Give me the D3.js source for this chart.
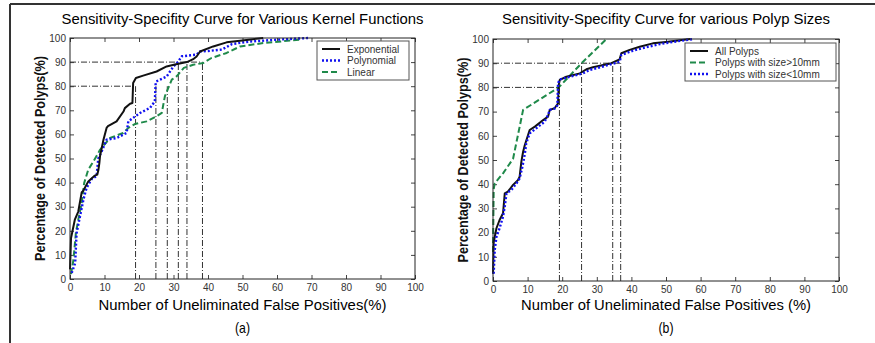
<!DOCTYPE html>
<html>
<head>
<meta charset="utf-8">
<script src="https://cdn.jsdelivr.net/npm/d3@7"></script>
<style>
  body { margin: 0; background: #fff; }
  svg { display: block; font-family: "Liberation Sans", Arial, sans-serif; }
</style>
</head>
<body>
<svg width="875" height="343"></svg>
<script>
// ---- data ----
const xTicks = [0, 10, 20, 30, 40, 50, 60, 70, 80, 90, 100];
const yTicks = [0, 10, 20, 30, 40, 50, 60, 70, 80, 90, 100];

// (a) kernel functions
const expPoints = [[0,4],[0.3,17],[1.4,24.6],[2.4,28],[3.4,36],[3.8,36.5],[5.3,40.5],[7.2,42.9],[7.9,43.3],[8.2,45],[8.5,48],[8.7,51],[9.7,57.8],[10.6,62.7],[11,63.4],[13.5,65.4],[15.5,69.5],[15.9,70.9],[17.4,72.7],[18.1,73],[18.3,81.3],[19.1,83.4],[21.2,84.4],[25.1,86.1],[28,88.2],[30.4,89],[33.9,90],[35.7,91.2],[36.7,92.3],[37.7,94.4],[41.5,96.5],[45.4,98.2],[49.3,98.9],[53,99.5],[56,100]];
const polyPoints = [[0.5,2.5],[1.5,6.6],[1.9,19],[2.9,26],[3.9,33],[4.8,37.8],[6.3,41.5],[7.7,42.7],[8.2,50],[9.2,53],[10.6,57.8],[13.5,58.5],[16.4,60.6],[16.9,65.4],[20.3,68.9],[23.2,71],[24.6,73.7],[24.8,80.6],[25,82],[28,84],[30,88.2],[31.4,90.3],[32.4,92.4],[36.7,93.1],[37.7,94.4],[40,94.6],[44,95.2],[47,97.5],[52,98.5],[60,99.3],[69,100]];
const linPoints = [[0.3,2],[1,8],[1.7,19],[2.4,24.6],[3.4,31.5],[4.1,39.8],[5.3,45.4],[6.8,48.8],[8.2,52.3],[8.7,53.6],[11.6,58.5],[15.4,60.6],[16.9,62.7],[18.8,64.3],[22.2,65.4],[25.1,67.5],[26.6,68.9],[27.5,75.8],[28.5,79.3],[29.5,82.7],[30.9,84.1],[33,87.6],[35.7,88.9],[38.6,89.6],[41,91.7],[45.4,93.8],[49.3,96.5],[56,97.9],[62,98.7],[67,99.3]];
const refHA = [[90, 38.4], [80, 19]];
const refVA = [[19, 80], [24.9, 80], [28.2, 80], [31.4, 90], [33.9, 90], [38.4, 90]];

// (b) polyp sizes
const allPoints = [[0,3],[0.2,16],[1,21.8],[1.9,25.2],[2.9,28],[3.4,36.2],[4.3,36.9],[5.8,39.7],[7.2,41.7],[7.7,43.1],[8.2,49.3],[8.7,53.4],[9.2,56.2],[10.6,62.4],[12.1,63.8],[14.5,66.5],[15.9,67.9],[16.4,70.7],[17.8,71.4],[18.8,73.4],[19,81],[19.3,83.1],[21.2,84.4],[25.1,85.8],[27,87.5],[28.9,88.3],[34.2,90],[36.6,91.6],[37.1,94.1],[39.5,95.5],[42.4,96.8],[46.2,98.2],[50,98.8],[54,99.5],[57,100]];
const bigPoints = [[0,12],[0.2,38],[0.5,40.4],[2.9,44.5],[5.8,50.5],[8.7,70.7],[19,80],[25.6,90],[32.8,100]];
const smallPoints = [[0.2,3],[0.5,12.8],[1,18.3],[1.9,21.8],[2.9,26.6],[3.4,30.8],[3.9,36.2],[5.3,37.6],[6.8,40.4],[7.7,42.4],[8.5,47.2],[9.2,52.5],[9.6,56.9],[10.6,61],[12.5,63.1],[14.9,65.8],[15.9,68.6],[16.4,70.7],[18.1,71.4],[18.6,72.7],[18.8,81.7],[19.3,83.3],[22.2,84.4],[26,85.8],[27.9,87.2],[33.5,89.3],[36.6,90.6],[37.1,93.4],[40.5,95.2],[44.3,96.6],[48.2,97.9],[53,99],[58,100]];
const refHB = [[90, 36.9], [80, 19.2]];
const refVB = [[19.2, 80], [25.6, 90], [34.6, 90], [36.9, 90]];

const styles = {
  solid: { stroke: "#111", width: 2, dash: null },
  dotted: { stroke: "#1010f0", width: 2.4, dash: "2,2" },
  dashed: { stroke: "#1f8a4a", width: 2, dash: "6,3" }
};

const svg = d3.select("svg");

// outer frame
svg.append("line").attr("x1", 10).attr("x2", 875).attr("y1", 4).attr("y2", 4)
  .attr("stroke", "#333").attr("stroke-width", 2);
svg.append("line").attr("x1", 10).attr("x2", 10).attr("y1", 4).attr("y2", 343)
  .attr("stroke", "#333").attr("stroke-width", 2);

function drawPanel(p) {
  const x = d3.scaleLinear().domain([0, 100]).range([p.left, p.right]);
  const y = d3.scaleLinear().domain([0, 100]).range([p.bottom, p.top]);
  const g = svg.append("g");

  // inward ticks on all sides
  g.append("g").attr("transform", `translate(0,${p.bottom})`)
    .call(d3.axisBottom(x).tickValues(xTicks).tickSize(-4).tickPadding(5));
  g.append("g").attr("transform", `translate(${p.left},0)`)
    .call(d3.axisLeft(y).tickValues(yTicks).tickSize(-4).tickPadding(4));
  g.append("g").attr("transform", `translate(0,${p.top})`)
    .call(d3.axisTop(x).tickValues(xTicks).tickSize(-4).tickFormat(""));
  g.append("g").attr("transform", `translate(${p.right},0)`)
    .call(d3.axisRight(y).tickValues(yTicks).tickSize(-4).tickFormat(""));
  g.selectAll(".domain").remove();
  g.selectAll(".tick line").attr("stroke", "#444");
  g.selectAll(".tick text").attr("font-size", 10).attr("fill", "#333")
    .attr("font-family", "'Liberation Sans Narrow', 'Liberation Sans', Arial, sans-serif");

  // reference lines
  const ref = g.append("g").attr("stroke", "#333").attr("stroke-width", 1)
    .attr("stroke-dasharray", "6,2,1,2").attr("fill", "none");
  p.refH.forEach(d => {
    ref.append("line").attr("x1", x(0)).attr("x2", x(d[1]))
      .attr("y1", y(d[0])).attr("y2", y(d[0]));
  });
  p.refV.forEach(d => {
    ref.append("line").attr("x1", x(d[0])).attr("x2", x(d[0]))
      .attr("y1", y(0)).attr("y2", y(d[1]));
  });

  // curves
  const line = d3.line().x(d => x(d[0])).y(d => y(d[1]));
  p.series.forEach(s => {
    const st = styles[s.style];
    g.append("path").datum(s.data).attr("d", line)
      .attr("fill", "none").attr("stroke", st.stroke)
      .attr("stroke-width", st.width).attr("stroke-dasharray", st.dash)
      .attr("stroke-linejoin", "round");
  });

  // box
  g.append("rect").attr("x", p.left).attr("y", p.top)
    .attr("width", p.right - p.left).attr("height", p.bottom - p.top)
    .attr("fill", "none").attr("stroke", "#222").attr("stroke-width", 1);

  // legend
  const lg = g.append("g");
  lg.append("rect").attr("x", p.legend.x).attr("y", p.legend.y)
    .attr("width", p.legend.w).attr("height", p.legend.h)
    .attr("fill", "#fff").attr("stroke", "#555").attr("stroke-width", 1);
  p.legendOrder.forEach((s, i) => {
    const st = styles[s.style];
    const yy = p.legend.y + 8 + i * 11.5;
    lg.append("line").attr("x1", p.legend.x + 5).attr("x2", p.legend.x + 23)
      .attr("y1", yy).attr("y2", yy).attr("stroke", st.stroke)
      .attr("stroke-width", st.width).attr("stroke-dasharray", st.dash);
    lg.append("text").attr("x", p.legend.x + 30).attr("y", yy + 3.5)
      .attr("font-size", 10).attr("fill", "#333").text(s.name);
  });

  // titles
  const cx = (p.left + p.right) / 2;
  g.append("text").attr("x", cx).attr("y", 24).attr("text-anchor", "middle")
    .attr("font-size", 14).attr("fill", "#000")
    .attr("textLength", p.titleLen).attr("lengthAdjust", "spacingAndGlyphs")
    .text(p.title);
  g.append("text").attr("x", cx).attr("y", 310).attr("text-anchor", "middle")
    .attr("font-size", 14).attr("fill", "#000")
    .attr("textLength", p.xLabelLen).attr("lengthAdjust", "spacingAndGlyphs")
    .text(p.xLabel);
  g.append("text").attr("transform", `translate(${p.left - 25},${(p.top + p.bottom) / 2}) rotate(-90)`)
    .attr("text-anchor", "middle").attr("font-size", 14).attr("font-weight", "bold")
    .attr("fill", "#111").attr("textLength", 205).attr("lengthAdjust", "spacingAndGlyphs")
    .text("Percentage of Detected Polyps(%)");
  g.append("text").attr("x", cx).attr("y", 333).attr("text-anchor", "middle")
    .attr("font-size", 15).attr("fill", "#000")
    .attr("textLength", 15).attr("lengthAdjust", "spacingAndGlyphs").text(p.tag);
}

drawPanel({
  left: 70, right: 415, top: 38, bottom: 279,
  title: "Sensitivity-Specifity Curve for Various Kernel Functions", titleLen: 362,
  xLabel: "Number of Uneliminated False Positives(%)", xLabelLen: 288,
  tag: "(a)",
  refH: refHA, refV: refVA,
  series: [
    { name: "Linear", style: "dashed", data: linPoints },
    { name: "Polynomial", style: "dotted", data: polyPoints },
    { name: "Exponential", style: "solid", data: expPoints }
  ],
  legendOrder: [
    { name: "Exponential", style: "solid" },
    { name: "Polynomial", style: "dotted" },
    { name: "Linear", style: "dashed" }
  ],
  legend: { x: 317, y: 41, w: 92, h: 39 }
});

drawPanel({
  left: 493, right: 839, top: 39, bottom: 281,
  title: "Sensitivity-Specifity Curve for various Polyp Sizes", titleLen: 328,
  xLabel: "Number of Uneliminated False Positives (%)", xLabelLen: 290,
  tag: "(b)",
  refH: refHB, refV: refVB,
  series: [
    { name: "Polyps with size>10mm", style: "dashed", data: bigPoints },
    { name: "All Polyps", style: "solid", data: allPoints },
    { name: "Polyps with size<10mm", style: "dotted", data: smallPoints }
  ],
  legendOrder: [
    { name: "All Polyps", style: "solid" },
    { name: "Polyps with size>10mm", style: "dashed" },
    { name: "Polyps with size<10mm", style: "dotted" }
  ],
  legend: { x: 685, y: 43, w: 151, h: 38 }
});
</script>
</body>
</html>
